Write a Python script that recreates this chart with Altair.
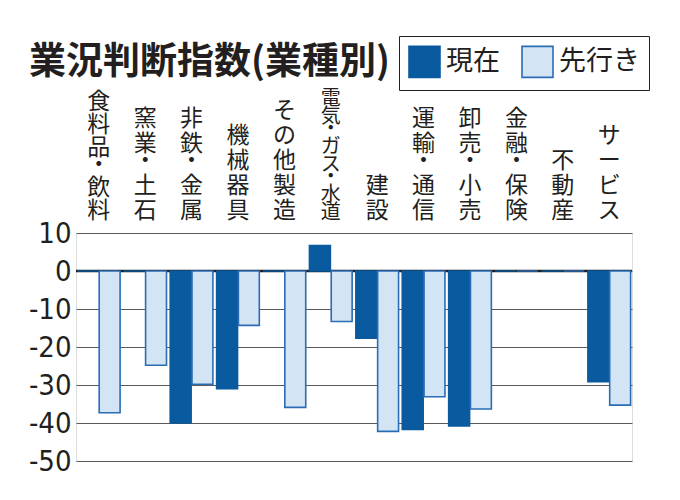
import altair as alt
import pandas as pd

categories = ["食料品・飲料", "窯業・土石", "非鉄・金属", "機械器具", "その他製造",
              "電気・ガス・水道", "建設", "運輸・通信", "卸売・小売", "金融・保険",
              "不動産", "サービス"]
current = [0, 0, -40, -31, 0, 6.7, -17.7, -41.7, -40.8, 0, 0, -29.1]
outlook = [-37.3, -24.8, -29.8, -14.3, -35.9, -13.3, -42.2, -33.1, -36.3, 0, 0, -35.3]
series = ["現在", "先行き"]
title_text = "業況判断指数(業種別)"
y_ticks = [10, 0, -10, -20, -30, -40, -50]

FONT = "Noto Sans CJK JP"
NUMFONT = "'Liberation Sans Narrow', 'DejaVu Sans Condensed', 'Noto Sans CJK JP', sans-serif"
DARK = "#0a5a9f"
LIGHT = "#d3e4f5"
LIGHT_STROKE = "#2a6db5"
INK = "#231f20"
PLOT_H = 228

rows = []
for c, a, b in zip(categories, current, outlook):
    rows.append({"cat": c, "series": series[0], "value": a})
    rows.append({"cat": c, "series": series[1], "value": b})
df = pd.DataFrame(rows)

# vertical category labels, one character per row, stacked upward from the bottom
char_rows = []
for c in categories:
    dense = c == "電気・ガス・水道"
    adv_char = 18 if dense else (23 if c == "食料品・飲料" else 25)
    adv_dot = 12 if dense else 17
    size = 20 if dense else 23
    cum = 0
    for ch in reversed(list(c)):
        char_rows.append({"cat": c, "ch": ch, "py": PLOT_H + 10 + cum, "size": size})
        cum += adv_dot if ch == "・" else adv_char
chars = pd.DataFrame(char_rows)

xscale = alt.Scale(domain=categories, paddingInner=0.08, paddingOuter=0.03)
xenc = alt.X("cat:N", sort=categories, scale=xscale, axis=None)

zero = alt.Chart(pd.DataFrame({"value": [0]})).mark_rule(color=INK, strokeWidth=2.5).encode(
    y=alt.Y("value:Q")
)

leg = dict(title=None, orient="none", legendX=323, legendY=-197,
           direction="horizontal", symbolType="square",
           symbolSize=961, symbolStrokeWidth=1.6,
           labelFontSize=27, labelFont=FONT, labelColor=INK,
           strokeColor=INK, padding=9, columnPadding=18,
           labelOffset=5)

bars = alt.Chart(df).mark_bar(strokeWidth=1.6).encode(
    x=xenc,
    xOffset=alt.XOffset("series:N", sort=series, scale=alt.Scale(domain=series, paddingInner=0.04)),
    y=alt.Y("value:Q", scale=alt.Scale(domain=[-50, 10], nice=False),
            axis=alt.Axis(values=y_ticks, tickCount=len(y_ticks) + 3, title=None,
                          domain=False, ticks=False, grid=True, gridColor="#5a5a5a",
                          gridWidth=1.2, labelFontSize=29, labelFont=NUMFONT,
                          labelColor=INK, labelPadding=5, labelOverlap=False,
                          labelFlush=False, labelExpr="'' + datum.value")),
    fill=alt.Fill("series:N", sort=series,
                  scale=alt.Scale(domain=series, range=[DARK, LIGHT]),
                  legend=alt.Legend(**leg)),
    stroke=alt.Stroke("series:N", sort=series,
                      scale=alt.Scale(domain=series, range=[DARK, LIGHT_STROKE]),
                      legend=alt.Legend(**leg)),
)

labels = alt.Chart(chars).mark_text(
    font=FONT, color=INK, baseline="bottom", align="center"
).encode(
    x=xenc,
    y=alt.Y("py:Q", scale=alt.Scale(domain=[0, PLOT_H], nice=False, zero=False), axis=None),
    text="ch:N",
    size=alt.Size("size:Q", scale=None, legend=None),
)

title = alt.Chart(pd.DataFrame({"t": [title_text]})).mark_text(
    font=FONT, fontSize=37, fontWeight="bold", color=INK, align="left", baseline="middle"
).encode(x=alt.value(-47), y=alt.value(-170), text="t:N")

plot = alt.layer(zero, bars)

chart = alt.layer(plot, labels, title).resolve_scale(y="independent").properties(
    width=556, height=PLOT_H,
    autosize="none",
    padding={"left": 68, "top": 225, "right": 40, "bottom": 30},
).configure_view(stroke=None).configure(background="white")

chart.save("out.html", embed_options={"renderer": "svg", "actions": False})
